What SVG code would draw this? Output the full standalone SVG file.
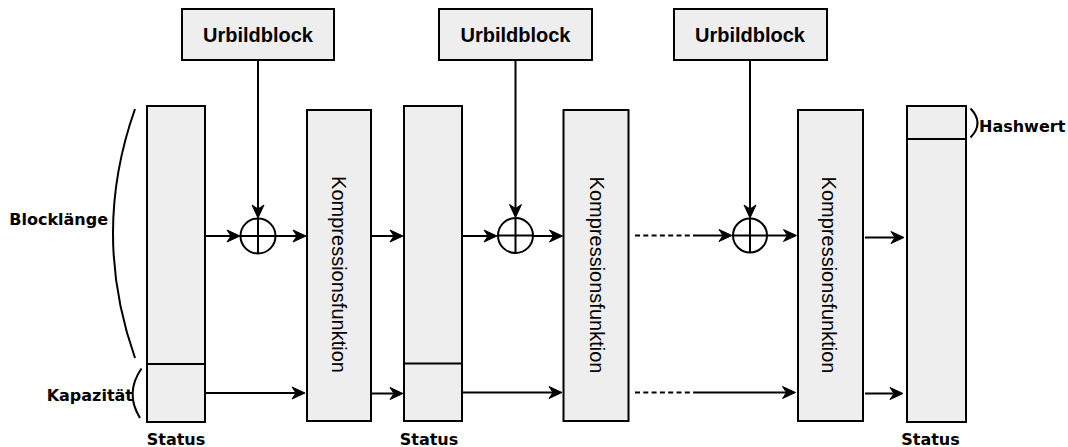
<svg xmlns="http://www.w3.org/2000/svg" width="1068" height="447" viewBox="0 0 1068 447">
<style>
.box{fill:#eeeeee;stroke:#000;stroke-width:2}
.ln{fill:none;stroke:#000;stroke-width:2}
.arr{fill:none;stroke:#000;stroke-width:2;marker-end:url(#ah)}
.dash{fill:none;stroke:#000;stroke-width:2;stroke-dasharray:5 3.3}
.ub{font-family:"Liberation Sans",Arial,sans-serif;font-weight:bold;font-size:20px;text-anchor:middle}
.kf{font-family:"Liberation Sans",Arial,sans-serif;font-size:20px;text-anchor:middle}
.lb{font-family:"DejaVu Sans",Verdana,sans-serif;font-weight:bold;font-size:16px}
</style>
<defs>
<marker id="ah" viewBox="-15 -8 16 16" refX="-3" refY="0" markerWidth="16" markerHeight="16" markerUnits="userSpaceOnUse" orient="auto">
<path d="M-13,-6 L0,0 L-13,6 L-9,0 Z" fill="#000" stroke="#000" stroke-width="1"/>
</marker>
</defs>
<g id="urbild1"><rect class="box" x="182" y="9" width="152" height="51"/><text class="ub" x="258" y="42">Urbildblock</text></g>
<g id="urbild2"><rect class="box" x="439" y="9" width="153" height="51"/><text class="ub" x="515.5" y="42">Urbildblock</text></g>
<g id="urbild3"><rect class="box" x="674" y="9" width="153" height="51"/><text class="ub" x="750" y="42">Urbildblock</text></g>
<g id="status1"><rect class="box" x="147" y="106" width="58" height="316"/><line class="ln" x1="147" y1="364" x2="205" y2="364"/><text class="lb" x="176" y="445" text-anchor="middle">Status</text></g>
<g id="status2"><rect class="box" x="404" y="106" width="58" height="315"/><line class="ln" x1="404" y1="363.5" x2="462" y2="363.5"/><text class="lb" x="429" y="445" text-anchor="middle">Status</text></g>
<g id="status3"><rect class="box" x="907" y="106" width="59" height="316"/><line class="ln" x1="907" y1="139" x2="966" y2="139"/><text class="lb" x="930.5" y="445" text-anchor="middle">Status</text></g>
<g id="komp1"><rect class="box" x="307" y="110" width="64" height="311"/><text class="kf" transform="translate(331.5,274.5) rotate(90)">Kompressionsfunktion</text></g>
<g id="komp2"><rect class="box" x="563.5" y="110" width="65" height="311"/><text class="kf" transform="translate(589.5,275) rotate(90)">Kompressionsfunktion</text></g>
<g id="komp3"><rect class="box" x="798" y="110" width="65" height="311"/><text class="kf" transform="translate(822,275) rotate(90)">Kompressionsfunktion</text></g>
<g id="xor1"><circle cx="258" cy="236" r="17.5" fill="#fff" stroke="#000" stroke-width="2"/><path class="ln" d="M258,218.5 V253.5 M240.5,236 H275.5"/></g>
<g id="xor2"><circle cx="515.5" cy="235.5" r="17.5" fill="#fff" stroke="#000" stroke-width="2"/><path class="ln" d="M515.5,218 V253 M498,235.5 H533"/></g>
<g id="xor3"><circle cx="750" cy="235.5" r="17" fill="#fff" stroke="#000" stroke-width="2"/><path class="ln" d="M750,218.5 V252.5 M733,235.5 H767"/></g>
<g id="labels">
<path class="ln" d="M135,109 Q91,233 135,358"/>
<text class="lb" x="108" y="225" text-anchor="end">Blocklänge</text>
<path class="ln" d="M141.5,368.5 Q124.5,393 140,418"/>
<text class="lb" x="133" y="401" text-anchor="end">Kapazität</text>
<path class="ln" d="M970.5,108.5 Q984.5,123 970.5,137.5"/>
<text class="lb" x="979" y="132">Hashwert</text>
</g>
<g id="connectors">
<line class="arr" x1="258" y1="60" x2="258" y2="215"/>
<line class="arr" x1="515.5" y1="60" x2="515.5" y2="214.5"/>
<line class="arr" x1="750" y1="60" x2="750" y2="215"/>
<line class="arr" x1="205" y1="236" x2="237" y2="236"/>
<line class="arr" x1="275.5" y1="236" x2="303" y2="236"/>
<line class="arr" x1="371" y1="236" x2="400" y2="236"/>
<line class="arr" x1="462" y1="236" x2="494" y2="236"/>
<line class="arr" x1="533" y1="236" x2="559.5" y2="236"/>
<line class="dash" x1="635" y1="235.5" x2="693" y2="235.5"/>
<line class="arr" x1="693" y1="235.5" x2="729" y2="235.5"/>
<line class="arr" x1="767" y1="235.5" x2="793.5" y2="235.5"/>
<line class="arr" x1="865" y1="237.5" x2="901" y2="237.5"/>
<line class="arr" x1="205" y1="393" x2="302" y2="393"/>
<line class="arr" x1="371" y1="393.5" x2="400" y2="393.5"/>
<line class="arr" x1="462" y1="392.5" x2="559" y2="392.5"/>
<line class="dash" x1="635" y1="392.5" x2="697" y2="392.5"/>
<line class="arr" x1="697" y1="392.5" x2="792.5" y2="392.5"/>
<line class="arr" x1="865" y1="393.5" x2="900" y2="393.5"/>
</g>
</svg>
